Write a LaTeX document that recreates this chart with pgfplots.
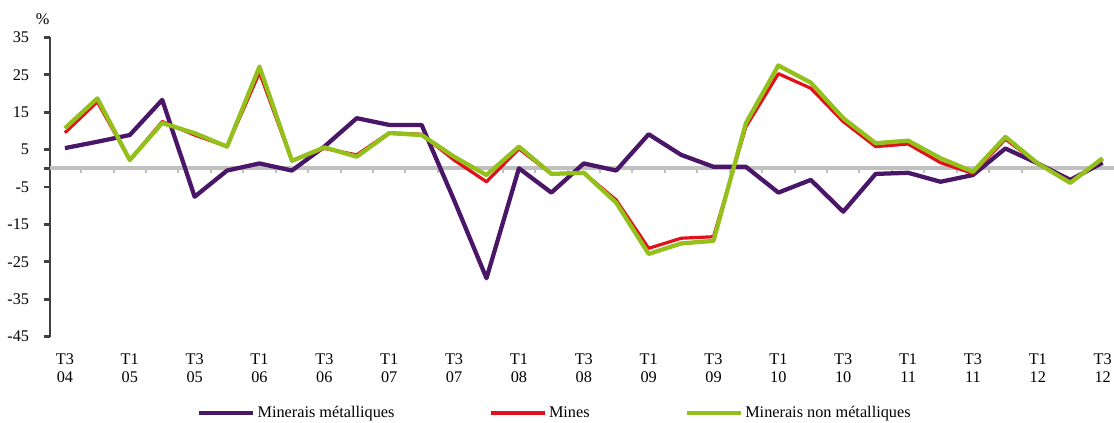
\documentclass[border=0pt]{standalone}
\usepackage{fontspec}
\setmainfont{Liberation Serif}
\usepackage{pgfplots}
\usepackage{pgfplotstable}
\pgfplotsset{compat=1.18}

\definecolor{metcol}{HTML}{4A1768}
\definecolor{minecol}{HTML}{E3101B}
\definecolor{nonmetcol}{HTML}{93C01B}
\definecolor{zerocol}{HTML}{C0C0C0}
\definecolor{axiscol}{HTML}{404040}

% quarters T3 04 ... T3 12 at x = 0..32
\pgfplotstableread{
x  met    mines  nonmet
0   5.4    9.5   10.7
1   7.1   17.8   18.7
2   8.9    2.2    2.2
3  18.3   12.5   12.1
4  -7.6    8.9    9.4
5  -0.6    5.8    5.8
6   1.3   25.6   27.2
7  -0.6    2.0    2.0
8   5.8    5.3    5.6
9  13.4    3.6    3.1
10 11.6    9.5    9.4
11 11.6    9.1    8.9
12 -8.5    2.2    3.1
13 -29.4  -3.6   -1.8
14  0.0    5.2    5.8
15 -6.5   -1.5   -1.5
16  1.3   -1.2   -1.2
17 -0.6   -8.5   -9.2
18  9.1  -21.4  -22.9
19  3.6  -18.7  -20.1
20  0.4  -18.3  -19.4
21  0.4   11.1   12.1
22 -6.5   25.3   27.5
23 -3.1   21.4   22.9
24 -11.6  12.5   13.4
25 -1.5    5.8    6.7
26 -1.2    6.5    7.4
27 -3.6    1.5    2.7
28 -1.8   -1.4   -0.9
29  5.3    7.8    8.4
30  1.3    1.3    1.3
31 -3.1   -3.6   -3.9
32  1.5    2.4    2.7
}\datatable

% small marks under the zero line, between the quarters
\pgfplotstableread{
x     y
0.5  -1.2
1.5  -1.2
2.5  -1.2
3.5  -1.2
4.5  -1.2
5.5  -1.2
6.5  -1.2
7.5  -1.2
8.5  -1.2
9.5  -1.2
10.5 -1.2
11.5 -1.2
12.5 -1.2
13.5 -1.2
14.5 -1.2
15.5 -1.2
16.5 -1.2
17.5 -1.2
18.5 -1.2
19.5 -1.2
20.5 -1.2
21.5 -1.2
22.5 -1.2
23.5 -1.2
24.5 -1.2
25.5 -1.2
26.5 -1.2
27.5 -1.2
28.5 -1.2
29.5 -1.2
30.5 -1.2
31.5 -1.2
}\zeroticks

\begin{document}
\begin{tikzpicture}
\begin{axis}[
  scale only axis,
  width=798pt, height=224.4pt,
  xmin=-0.46, xmax=32.35,
  ymin=-45, ymax=35,
  axis lines*=left,
  x axis line style={draw=none},
  y axis line style={draw=axiscol, line width=2.2pt},
  xtick={0,2,...,32},
  xticklabels={T3\\04,T1\\05,T3\\05,T1\\06,T3\\06,T1\\07,T3\\07,T1\\08,T3\\08,T1\\09,T3\\09,T1\\10,T3\\10,T1\\11,T3\\11,T1\\12,T3\\12},
  xtick style={draw=none},
  xticklabel style={align=center, inner sep=0pt, anchor=north, yshift=-8pt,
    font=\fontsize{12.2}{13.5}\selectfont},
  ytick={-45,-35,...,35},
  yticklabels={-45,-35,-25,-15,-5,5,15,25,35},
  ytick style={draw=axiscol, line width=2pt},
  tick align=outside,
  major tick length=4.5pt,
  yticklabel style={inner sep=0pt, anchor=east, xshift=-11pt,
    font=\fontsize{12.2}{13.5}\selectfont},
  extra y ticks={0},
  extra y tick labels={},
  extra y tick style={grid=major, major grid style={draw=zerocol, line width=3.2pt},
    tick style={draw=none}},
  legend columns=3,
  legend style={draw=none, fill=none, at={(0.4746,0)}, anchor=center, yshift=-57.3pt,
    font=\fontsize{12.2}{13.5}\selectfont,
    /tikz/every even column/.append style={column sep=70pt},
    nodes={inner sep=1.5pt}},
  legend image code/.code={\draw[#1] (0pt,0pt) -- (40.5pt,0pt);},
  clip=false,
]
\addplot[ycomb, draw=zerocol, line width=1.5pt, forget plot] table[x=x, y=y] {\zeroticks};
\addplot[metcol, line width=3.2pt, line join=round] table[x=x, y=met] {\datatable};
\addplot[minecol, line width=2.4pt, line join=round] table[x=x, y=mines] {\datatable};
\addplot[nonmetcol, line width=3.2pt, line join=round] table[x=x, y=nonmet] {\datatable};
\legend{Minerais métalliques, Mines, Minerais non métalliques}
\node[font=\fontsize{12.2}{13.5}\selectfont] at (rel axis cs:0,1) [xshift=-5.5pt, yshift=13.4pt] {\%};
\end{axis}
\pgfresetboundingbox
\path[use as bounding box] (-37.5pt,-64.8pt) rectangle (798pt,252.45pt);
\end{tikzpicture}
\end{document}
